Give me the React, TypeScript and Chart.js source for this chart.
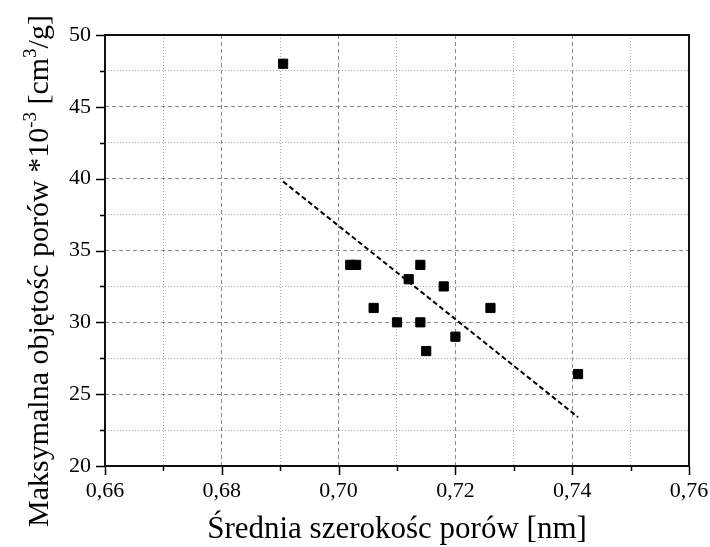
import React, { useEffect, useRef } from "react";
import { Chart, registerables } from "chart.js";

Chart.register(...registerables);

// ---- data ----
const poreWidth = [0.6905, 0.702, 0.703, 0.714, 0.712, 0.718, 0.706, 0.726, 0.71, 0.714, 0.72, 0.715, 0.741];
const poreVolume = [48.0, 34.0, 34.0, 34.0, 33.0, 32.5, 31.0, 31.0, 30.0, 30.0, 29.0, 28.0, 26.4];
const trendWidth = [0.6905, 0.741];
const trendVolume = [39.8, 23.4];

const xMin = 0.66;
const xMax = 0.76;
const xStep = 0.01;
const yMin = 20;
const yMax = 50;
const yStep = 2.5;

const xTitle = "Średnia szerokośc porów [nm]";
const yTitleParts = ["Maksymalna objętośc porów *10", "-3", " [cm", "3", "/g]"];
const yTitleSup = [false, true, false, true, false];

const FONT = '"Liberation Serif", "Times New Roman", serif';

const isMajorX = (v: number) => Math.abs(Math.round(v * 100)) % 2 === 0;
const isMajorY = (v: number) => Math.abs(Math.round(v * 2)) % 10 === 0;

export default function App() {
  const ref = useRef<HTMLCanvasElement>(null);

  useEffect(() => {
    if (!ref.current) return;

    const framePlugin = {
      id: "frameAndTitles",
      afterDraw(chart: any) {
        const { ctx, chartArea: a, scales } = chart;
        const xs = scales.x;
        const ys = scales.y;
        ctx.save();
        ctx.strokeStyle = "#000";
        ctx.lineWidth = 1.5;
        ctx.setLineDash([]);
        ctx.beginPath();
        xs.ticks.forEach((t: any) => {
          const px = Math.round(xs.getPixelForValue(t.value)) + 0.5;
          const len = isMajorX(t.value) ? 9 : 5;
          ctx.moveTo(px, a.bottom);
          ctx.lineTo(px, a.bottom + len);
        });
        ys.ticks.forEach((t: any) => {
          const py = Math.round(ys.getPixelForValue(t.value)) + 0.5;
          const len = isMajorY(t.value) ? 9 : 5;
          ctx.moveTo(a.left, py);
          ctx.lineTo(a.left - len, py);
        });
        ctx.stroke();

        ctx.lineWidth = 2;
        ctx.strokeStyle = "#111";
        ctx.strokeRect(a.left, a.top, a.right - a.left, a.bottom - a.top);

        // x title
        ctx.fillStyle = "#000";
        ctx.font = `31px ${FONT}`;
        ctx.textAlign = "center";
        ctx.textBaseline = "alphabetic";
        ctx.fillText(xTitle, (a.left + a.right) / 2, 538);

        // y title with superscripts
        const baseFont = `30px ${FONT}`;
        const supFont = `19px ${FONT}`;
        let total = 0;
        const widths = yTitleParts.map((p, i) => {
          ctx.font = yTitleSup[i] ? supFont : baseFont;
          const w = ctx.measureText(p).width;
          total += w;
          return w;
        });
        ctx.translate(47.5, 271);
        ctx.rotate(-Math.PI / 2);
        ctx.textAlign = "left";
        let x = -total / 2;
        yTitleParts.forEach((p, i) => {
          ctx.font = yTitleSup[i] ? supFont : baseFont;
          ctx.fillText(p, x, yTitleSup[i] ? -12 : 0);
          x += widths[i];
        });
        ctx.restore();
      },
    };

    const chart = new Chart(ref.current, {
      type: "scatter",
      data: {
        datasets: [
          {
            label: "points",
            data: poreWidth.map((x, i) => ({ x, y: poreVolume[i] })),
            pointStyle: "rect",
            pointRadius: 6.5,
            pointBorderWidth: 1,
            backgroundColor: "#000",
            borderColor: "#000",
            showLine: false,
          },
          {
            label: "trend",
            data: trendWidth.map((x, i) => ({ x, y: trendVolume[i] })),
            showLine: true,
            pointRadius: 0,
            borderColor: "#000",
            borderWidth: 2,
            borderDash: [5, 3],
            fill: false,
          },
        ],
      },
      plugins: [framePlugin],
      options: {
        animation: false,
        responsive: false,
        layout: { padding: { top: 35, right: 21, left: 0, bottom: 0 } },
        plugins: { legend: { display: false }, tooltip: { enabled: false } },
        scales: {
          x: {
            type: "linear",
            min: xMin,
            max: xMax,
            afterFit: (s: any) => {
              s.height = 81;
              s.paddingLeft = 0;
              s.paddingRight = 0;
            },
            ticks: {
              stepSize: xStep,
              autoSkip: false,
              maxRotation: 0,
              padding: 12,
              color: "#000",
              font: { family: FONT, size: 22 },
              callback: (v: any) => (isMajorX(Number(v)) ? Number(v).toFixed(2).replace(".", ",") : ""),
            },
            grid: {
              drawTicks: false,
              lineWidth: 1,
              color: (c: any) => (c.tick && isMajorX(c.tick.value) ? "#8a8a8a" : "#aaaaaa"),
            },
            border: {
              display: false,
              dash: (c: any) => (c.tick ? (isMajorX(c.tick.value) ? [4, 3] : [1, 2]) : []),
            },
          },
          y: {
            type: "linear",
            min: yMin,
            max: yMax,
            afterFit: (s: any) => {
              s.width = 105;
              s.paddingTop = 0;
              s.paddingBottom = 0;
            },
            ticks: {
              stepSize: yStep,
              autoSkip: false,
              padding: 14,
              color: "#000",
              font: { family: FONT, size: 22 },
              callback: (v: any) => (isMajorY(Number(v)) ? String(Number(v)) : ""),
            },
            grid: {
              drawTicks: false,
              lineWidth: 1,
              color: (c: any) => (c.tick && isMajorY(c.tick.value) ? "#8a8a8a" : "#aaaaaa"),
            },
            border: {
              display: false,
              dash: (c: any) => (c.tick ? (isMajorY(c.tick.value) ? [4, 3] : [1, 2]) : []),
            },
          },
        },
      },
    });

    return () => chart.destroy();
  }, []);

  return (
    <div style={{ position: "fixed", left: 0, top: 0, width: 710, height: 547, background: "#fff" }}>
      <canvas ref={ref} width={710} height={547} style={{ display: "block" }} />
    </div>
  );
}
